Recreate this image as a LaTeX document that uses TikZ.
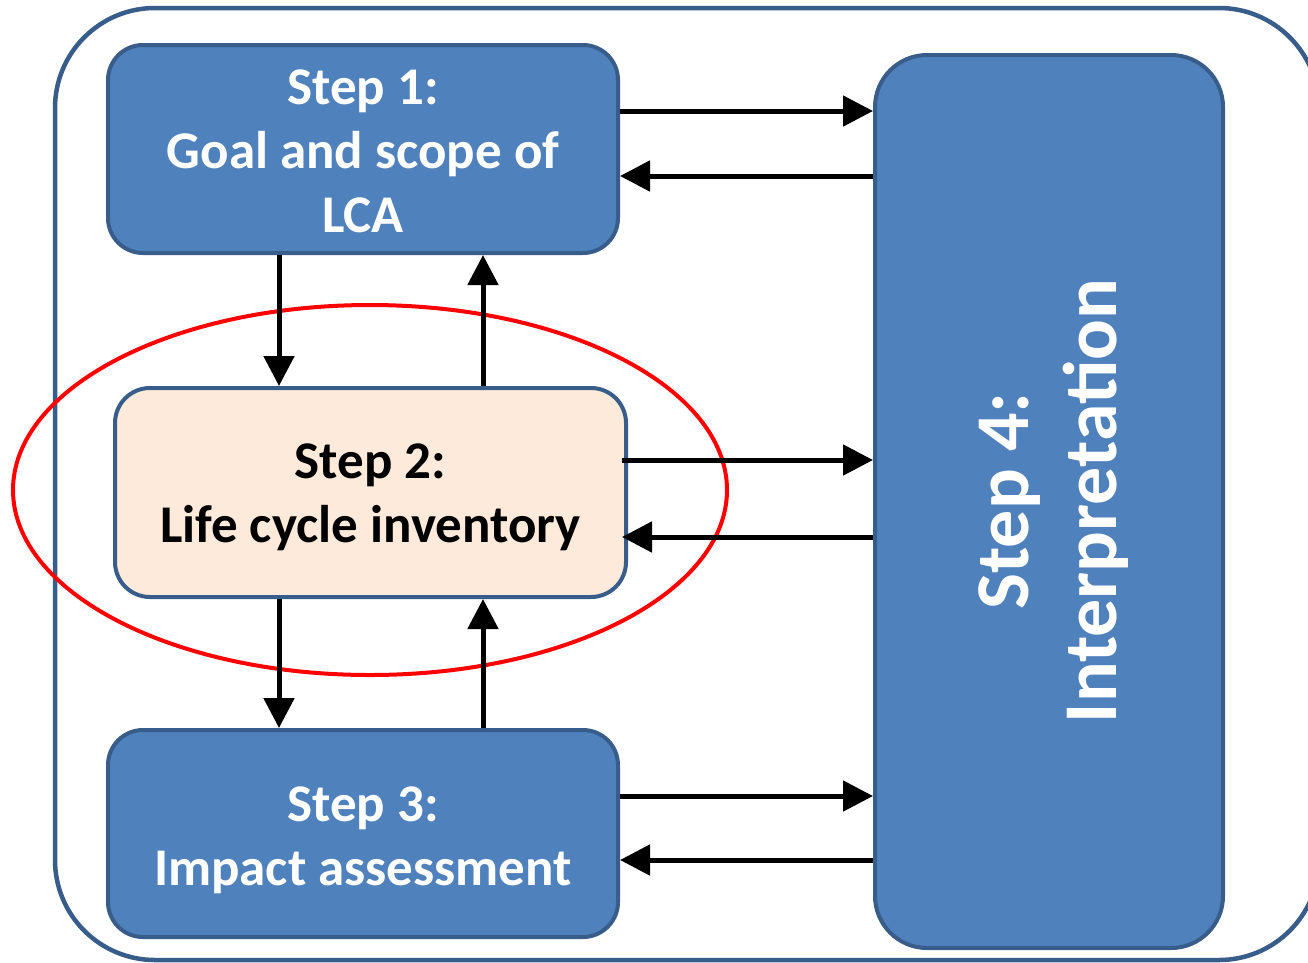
\documentclass[tikz,border=0pt]{standalone}
\usepackage{fontspec}
\setmainfont{Carlito}
\usetikzlibrary{arrows.meta,shapes.geometric}
\definecolor{boxblue}{HTML}{4F81BD}
\definecolor{boxedge}{HTML}{385D8A}
\definecolor{peach}{HTML}{FDEADA}
\tikzset{
  stepbox/.style={draw=boxedge, line width=4pt, rounded corners=35pt, inner sep=0pt},
  bluebox/.style={stepbox, fill=boxblue},
  peachbox/.style={stepbox, fill=peach},
  boxtext/.style={align=center, inner sep=0pt, font=\fontsize{53}{64}\selectfont\bfseries},
  arr/.style={line width=5pt, -{Triangle[length=30pt,width=30pt]}},
  highlight/.style={draw=red, line width=4pt, ellipse, inner sep=0pt},
}
\begin{document}
\begin{tikzpicture}[x=1pt,y=-1pt]
\useasboundingbox (0,0) rectangle (1308,962);
\begin{scope}
\clip (0,0) rectangle (1308,962);
\draw[boxedge, line width=4.5pt, rounded corners=100pt] (55,8) rectangle (1319,960);
\end{scope}
\node[highlight, minimum width=714pt, minimum height=370pt] (hl) at (370,490) {};
\node[bluebox, minimum width=510pt, minimum height=208pt] (b1) at (363,149) {};
\node[peachbox, minimum width=511pt, minimum height=209pt] (b2) at (370.5,492.5) {};
\node[bluebox, minimum width=510pt, minimum height=207pt] (b3) at (363,833.5) {};
\node[bluebox, rounded corners=52pt, minimum width=348pt, minimum height=893pt] (b4) at (1049,501.5) {};
\node[boxtext, text=white] (t1) at ([yshift=-2pt]b1.center) {Step 1:\\Goal and scope of\\LCA};
\node[boxtext, text=black] (t2) at ([yshift=-5pt]b2.center) {Step 2:\\Life cycle inventory};
\node[boxtext, text=white] (t3) at ([yshift=-7pt]b3.center) {Step 3:\\Impact assessment};
\node[text=white, rotate=90, align=center, font=\fontsize{76}{88}\selectfont\bfseries] (t4) at (1054,501) {Step 4:\\Interpretation};
\coordinate (dx) at (279,0);
\coordinate (ux) at (483,0);
\draw[arr] (b1.south -| dx) -- (b2.north -| dx);
\draw[arr] (b2.north -| ux) -- (b1.south -| ux);
\draw[arr] (b2.south -| dx) -- (b3.north -| dx);
\draw[arr] (b3.north -| ux) -- (b2.south -| ux);
\coordinate (h1) at (0,111);
\coordinate (h2) at (0,176);
\coordinate (h3) at (0,460);
\coordinate (h4) at (0,537);
\coordinate (h5) at (0,796);
\coordinate (h6) at (0,860);
\draw[arr] (b1.east |- h1) -- (b4.west |- h1);
\draw[arr] (b4.west |- h2) -- (b1.east |- h2);
\draw[arr] ([xshift=-6pt]b2.east |- h3) -- (b4.west |- h3);
\draw[arr] (b4.west |- h4) -- ([xshift=-6pt]b2.east |- h4);
\draw[arr] (b3.east |- h5) -- (b4.west |- h5);
\draw[arr] (b4.west |- h6) -- (b3.east |- h6);
\end{tikzpicture}
\end{document}
